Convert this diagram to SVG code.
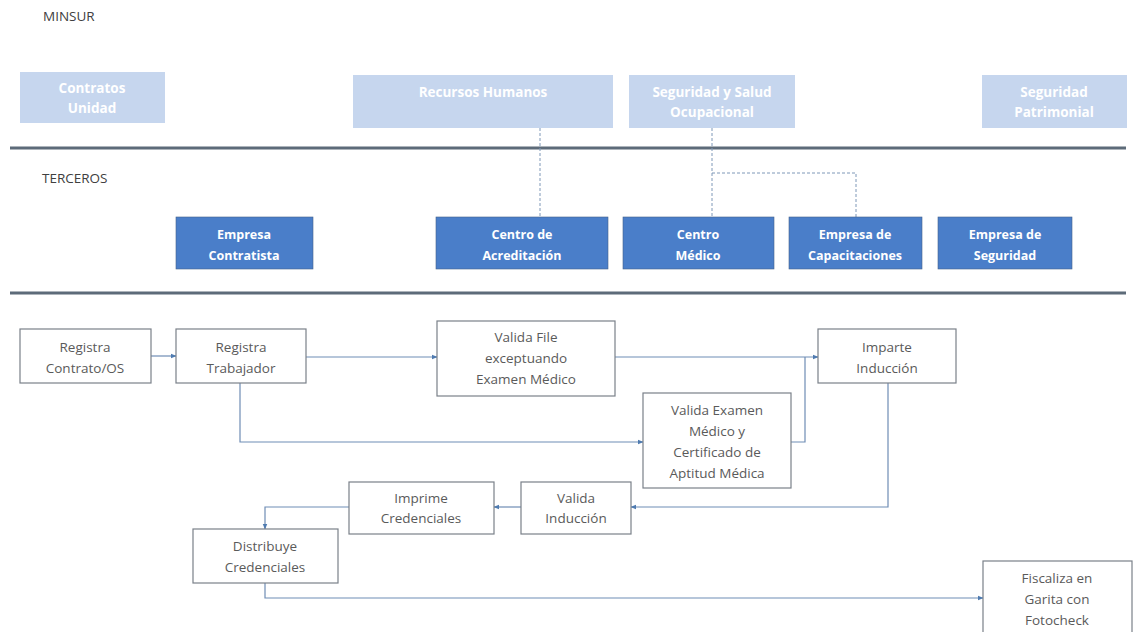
<svg xmlns="http://www.w3.org/2000/svg" width="1136" height="632" viewBox="0 0 1136 632">
<defs>
<marker id="arr" viewBox="0 0 10 10" refX="9" refY="5" markerWidth="6" markerHeight="6" orient="auto-start-reverse" markerUnits="userSpaceOnUse"><path d="M0,1 L10,5 L0,9 z" fill="#4f7bb0"/></marker>
<style>
text{font-family:"Open Sans","Liberation Sans",sans-serif;text-anchor:middle}
.lbl{font-size:13.5px;fill:#404040;text-anchor:start}
.lb{fill:#c6d6ee}
.lbt{font-size:13.5px;font-weight:bold;fill:#ffffff}
.db{fill:#4a7ec9;stroke:#44618a;stroke-width:0.6}
.dbt{font-size:12.5px;font-weight:bold;fill:#ffffff}
.fb{fill:#ffffff;stroke:#7a8089;stroke-width:1.2}
.fbt{font-size:13.5px;fill:#5a5a5a}
.sep{stroke:#5d6b79;stroke-width:3}
.dash{fill:none;stroke:#7f98b8;stroke-width:1;stroke-dasharray:3,2}
.con{fill:none;stroke:#6f8db5;stroke-width:1.2}
</style>
</defs>
<rect width="1136" height="632" fill="#ffffff"/>
<text class="lbl" x="43" y="21">MINSUR</text>
<text class="lbl" x="42" y="183">TERCEROS</text>
<line class="sep" x1="10" y1="148" x2="1126" y2="148"/>
<line class="sep" x1="10" y1="293" x2="1126" y2="293"/>

<g id="connectors">
<path class="dash" d="M540,128 V218"/>
<path class="dash" d="M712,128 V218"/>
<path class="dash" d="M712,173 H856 V218"/>
<path class="con" d="M151,356 H176" marker-end="url(#arr)"/>
<path class="con" d="M306,357 H437" marker-end="url(#arr)"/>
<path class="con" d="M240,383 V442 H643" marker-end="url(#arr)"/>
<path class="con" d="M615,357 H818" marker-end="url(#arr)"/>
<path class="con" d="M791,442 H805 V357"/>
<path class="con" d="M888,383 V507 H631" marker-end="url(#arr)"/>
<path class="con" d="M521,507 H494" marker-end="url(#arr)"/>
<path class="con" d="M349,507 H265 V529" marker-end="url(#arr)"/>
<path class="con" d="M265,583 V598 H983" marker-end="url(#arr)"/>
</g>

<g id="n-contratos-unidad"><rect class="lb" x="20" y="72" width="145" height="51"/><text class="lbt" x="92" y="93">Contratos</text><text class="lbt" x="92" y="113">Unidad</text></g>
<g id="n-rrhh"><rect class="lb" x="353" y="75" width="260" height="53"/><text class="lbt" x="483" y="97">Recursos Humanos</text></g>
<g id="n-sso"><rect class="lb" x="629" y="75" width="166" height="53"/><text class="lbt" x="712" y="97">Seguridad y Salud</text><text class="lbt" x="712" y="117">Ocupacional</text></g>
<g id="n-patrimonial"><rect class="lb" x="982" y="75" width="145" height="53"/><text class="lbt" x="1054" y="97">Seguridad</text><text class="lbt" x="1054" y="117">Patrimonial</text></g>

<g id="n-empresa-contratista"><rect class="db" x="176" y="217" width="137" height="52"/><text class="dbt" x="244" y="239">Empresa</text><text class="dbt" x="244" y="260">Contratista</text></g>
<g id="n-centro-acreditacion"><rect class="db" x="436" y="217" width="172" height="52"/><text class="dbt" x="522" y="239">Centro de</text><text class="dbt" x="522" y="260">Acreditación</text></g>
<g id="n-centro-medico"><rect class="db" x="623" y="217" width="151" height="52"/><text class="dbt" x="698" y="239">Centro</text><text class="dbt" x="698" y="260">Médico</text></g>
<g id="n-empresa-capacitaciones"><rect class="db" x="789" y="217" width="133" height="52"/><text class="dbt" x="855" y="239">Empresa de</text><text class="dbt" x="855" y="260">Capacitaciones</text></g>
<g id="n-empresa-seguridad"><rect class="db" x="938" y="217" width="134" height="52"/><text class="dbt" x="1005" y="239">Empresa de</text><text class="dbt" x="1005" y="260">Seguridad</text></g>

<g id="n-registra-contrato"><rect class="fb" x="20" y="329" width="131" height="54"/><text class="fbt" x="85" y="352">Registra</text><text class="fbt" x="85" y="373">Contrato/OS</text></g>
<g id="n-registra-trabajador"><rect class="fb" x="176" y="329" width="130" height="54"/><text class="fbt" x="241" y="352">Registra</text><text class="fbt" x="241" y="373">Trabajador</text></g>
<g id="n-valida-file"><rect class="fb" x="437" y="321" width="178" height="75"/><text class="fbt" x="526" y="342">Valida File</text><text class="fbt" x="526" y="363">exceptuando</text><text class="fbt" x="526" y="384">Examen Médico</text></g>
<g id="n-imparte-induccion"><rect class="fb" x="818" y="329" width="138" height="54"/><text class="fbt" x="887" y="352">Imparte</text><text class="fbt" x="887" y="373">Inducción</text></g>
<g id="n-valida-examen"><rect class="fb" x="643" y="393" width="148" height="95"/><text class="fbt" x="717" y="415">Valida Examen</text><text class="fbt" x="717" y="436">Médico y</text><text class="fbt" x="717" y="457">Certificado de</text><text class="fbt" x="717" y="478">Aptitud Médica</text></g>
<g id="n-valida-induccion"><rect class="fb" x="521" y="482" width="110" height="52"/><text class="fbt" x="576" y="503">Valida</text><text class="fbt" x="576" y="523">Inducción</text></g>
<g id="n-imprime-credenciales"><rect class="fb" x="349" y="482" width="145" height="52"/><text class="fbt" x="421" y="503">Imprime</text><text class="fbt" x="421" y="523">Credenciales</text></g>
<g id="n-distribuye-credenciales"><rect class="fb" x="193" y="529" width="145" height="54"/><text class="fbt" x="265" y="551">Distribuye</text><text class="fbt" x="265" y="572">Credenciales</text></g>
<g id="n-fiscaliza"><rect class="fb" x="983" y="561" width="149" height="80"/><text class="fbt" x="1057" y="583">Fiscaliza en</text><text class="fbt" x="1057" y="604">Garita con</text><text class="fbt" x="1057" y="625">Fotocheck</text></g>
</svg>
